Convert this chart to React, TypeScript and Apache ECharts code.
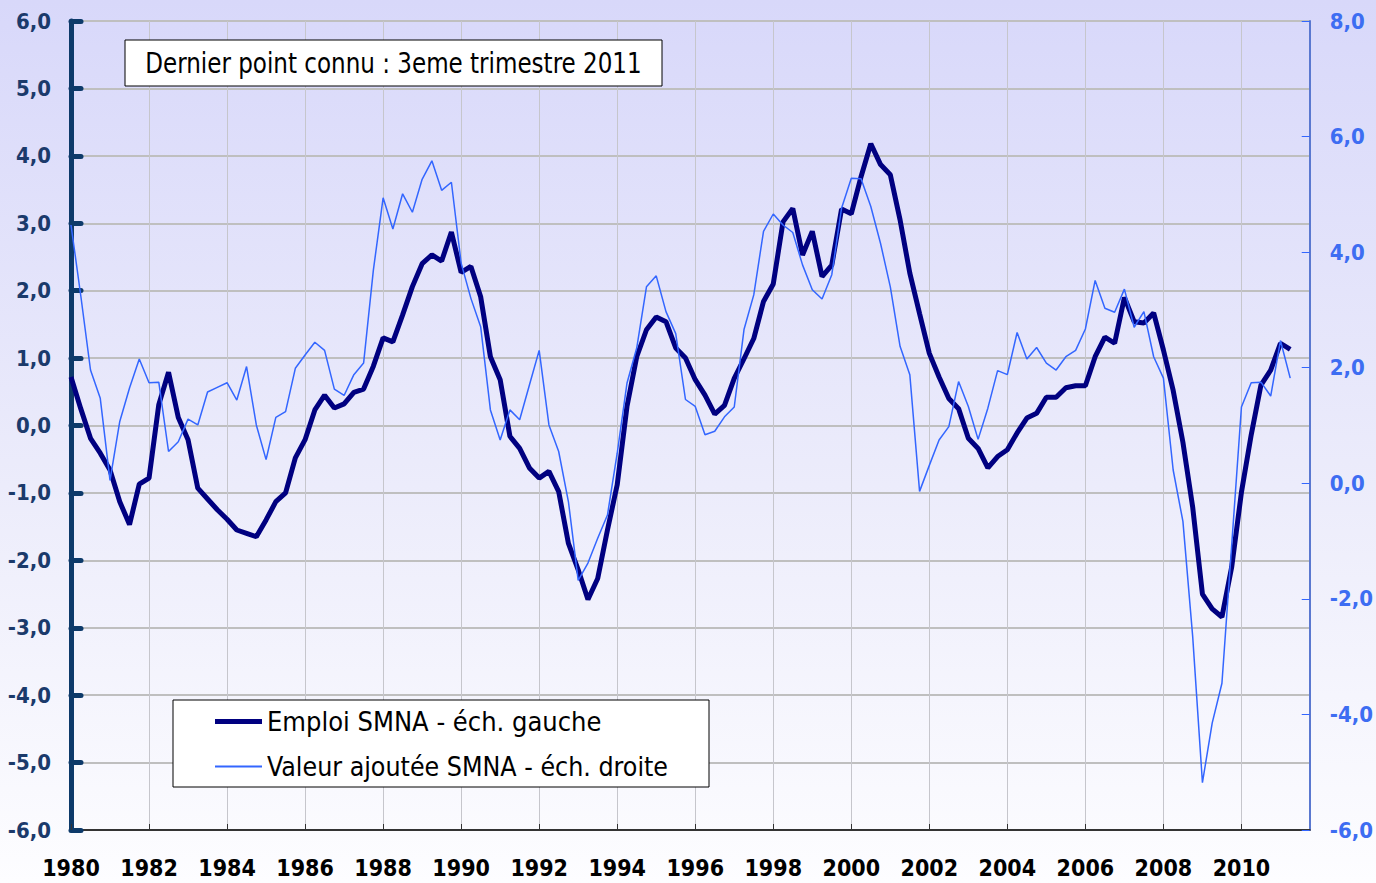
import React, { useEffect, useRef } from 'react';
import * as echarts from 'echarts';

// Quarterly data, first point 1980 Q1
const startYear = 1980;
const quarterStep = 0.25;

// Emploi SMNA, glissement annuel (%), échelle gauche
const emploi = [
  0.72, 0.25, -0.19, -0.41, -0.66, -1.13, -1.47, -0.87, -0.78, 0.31,
  0.79, 0.12, -0.21, -0.93, -1.09, -1.25, -1.39, -1.55, -1.60, -1.65,
  -1.40, -1.13, -1.00, -0.48, -0.21, 0.23, 0.45, 0.26, 0.32, 0.49,
  0.54, 0.88, 1.30, 1.24, 1.64, 2.06, 2.40, 2.53, 2.44, 2.87,
  2.27, 2.36, 1.91, 1.02, 0.68, -0.16, -0.34, -0.63, -0.78, -0.68,
  -0.98, -1.75, -2.14, -2.58, -2.27, -1.55, -0.88, 0.28, 1.02, 1.42,
  1.61, 1.54, 1.15, 1.00, 0.68, 0.45, 0.17, 0.30, 0.70, 0.99,
  1.29, 1.84, 2.10, 3.02, 3.22, 2.53, 2.88, 2.21, 2.38, 3.21,
  3.14, 3.69, 4.18, 3.87, 3.72, 3.05, 2.26, 1.66, 1.07, 0.72,
  0.40, 0.25, -0.19, -0.34, -0.63, -0.46, -0.36, -0.11, 0.11, 0.18,
  0.42, 0.42, 0.56, 0.59, 0.59, 1.02, 1.31, 1.22, 1.90, 1.54,
  1.52, 1.67, 1.12, 0.52, -0.25, -1.21, -2.50, -2.72, -2.84, -2.10,
  -0.99, -0.14, 0.60, 0.82, 1.22, 1.13,
];

// Valeur ajoutée SMNA, glissement annuel (%), échelle droite
const valeurAjoutee = [
  4.47, 3.25, 1.96, 1.47, 0.05, 1.07, 1.65, 2.15, 1.74, 1.75,
  0.55, 0.72, 1.11, 1.01, 1.58, 1.66, 1.74, 1.44, 2.02, 1.01,
  0.41, 1.14, 1.24, 1.99, 2.22, 2.44, 2.30, 1.63, 1.52, 1.88,
  2.08, 3.69, 4.94, 4.40, 5.01, 4.69, 5.26, 5.58, 5.07, 5.21,
  3.81, 3.20, 2.71, 1.27, 0.75, 1.27, 1.10, 1.70, 2.30, 1.01,
  0.55, -0.32, -1.68, -1.38, -0.95, -0.55, 0.52, 1.73, 2.34, 3.40,
  3.59, 2.97, 2.59, 1.45, 1.33, 0.84, 0.90, 1.15, 1.32, 2.66,
  3.26, 4.36, 4.66, 4.47, 4.34, 3.78, 3.35, 3.19, 3.61, 4.76,
  5.28, 5.27, 4.79, 4.15, 3.40, 2.37, 1.88, -0.14, 0.31, 0.75,
  0.98, 1.76, 1.33, 0.76, 1.30, 1.95, 1.88, 2.61, 2.15, 2.35,
  2.08, 1.96, 2.19, 2.30, 2.67, 3.51, 3.03, 2.96, 3.36, 2.70,
  2.97, 2.19, 1.82, 0.23, -0.66, -2.65, -5.18, -4.15, -3.46, -1.07,
  1.32, 1.74, 1.75, 1.51, 2.47, 1.82,
];

const seriesNames = ['Emploi SMNA - éch. gauche', 'Valeur ajoutée SMNA - éch. droite'];
const noteText = 'Dernier point connu : 3eme trimestre 2011';

const xMin = 1980;
const xMax = 2011.75;
const xInterval = 2;
const leftMin = -6;
const leftMax = 6;
const leftInterval = 1;
const rightMin = -6;
const rightMax = 8;
const rightInterval = 2;

const FONT = "'Liberation Sans Narrow', 'Arial Narrow', 'DejaVu Sans Condensed', 'Liberation Sans', sans-serif";

const toPairs = (arr: number[]) => arr.map((v, i) => [startYear + i * quarterStep, v]);
const fmt = (v: number) => v.toFixed(1).replace('.', ',');

export default function App() {
  const ref = useRef<HTMLDivElement>(null);
  useEffect(() => {
    if (!ref.current) return;
    const chart = echarts.init(ref.current, null, { renderer: 'svg' });
    const option: any = {
      animation: false,
      backgroundColor: new echarts.graphic.LinearGradient(0, 0, 0, 1, [
        { offset: 0, color: '#d8d8fa' },
        { offset: 0.55, color: '#ececfb' },
        { offset: 1, color: '#fdfdff' },
      ]),
      grid: { left: 71, right: 66, top: 21, bottom: 53, containLabel: false },
      xAxis: {
        type: 'value',
        min: xMin,
        max: xMax,
        interval: xInterval,
        axisLine: { show: true, onZero: false, lineStyle: { color: '#333', width: 2 } },
        axisTick: { show: true, inside: true, length: 6, lineStyle: { color: '#333', width: 1 } },
        axisLabel: {
          showMaxLabel: false,
          formatter: (v: number) => (Math.abs(v % 2) < 1e-6 ? String(v) : ''),
          color: '#000',
          fontSize: 23,
          fontWeight: 'bold',
          fontFamily: FONT,
          margin: 26,
        },
        splitLine: { show: true, lineStyle: { color: '#c6c6cc', width: 1 } },
      },
      yAxis: [
        {
          type: 'value',
          min: leftMin,
          max: leftMax,
          interval: leftInterval,
          position: 'left',
          axisLine: { show: true, onZero: false, lineStyle: { color: '#0d3a6a', width: 5 } },
          axisTick: { show: true, inside: true, length: 10, lineStyle: { color: '#0d3a6a', width: 5, cap: 'round' } },
          axisLabel: { formatter: fmt, color: '#1b3a6b', fontSize: 22, fontWeight: 'bold', fontFamily: FONT, margin: 20 },
          splitLine: { show: true, lineStyle: { color: '#bfbfbf', width: 2 } },
        },
        {
          type: 'value',
          min: rightMin,
          max: rightMax,
          interval: rightInterval,
          position: 'right',
          axisLine: { show: true, onZero: false, lineStyle: { color: '#5a78d0', width: 2 } },
          axisTick: { show: true, inside: true, length: 8, lineStyle: { color: '#3366ff', width: 1 } },
          axisLabel: { formatter: fmt, color: '#3d6df2', fontSize: 22, fontWeight: 'bold', fontFamily: FONT, margin: 20 },
          splitLine: { show: false },
        },
      ],
      legend: [
        {
          data: [seriesNames[0]],
          left: 215,
          top: 708,
          padding: 0,
          icon: 'rect',
          itemWidth: 47,
          itemHeight: 5,
          selectedMode: false,
          z: 20,
          textStyle: { fontSize: 27, fontFamily: FONT, color: '#000' },
        },
        {
          data: [seriesNames[1]],
          left: 215,
          top: 753,
          padding: 0,
          icon: 'rect',
          itemWidth: 47,
          itemHeight: 2,
          selectedMode: false,
          z: 20,
          textStyle: { fontSize: 26.5, fontFamily: FONT, color: '#000' },
        },
      ],
      graphic: [
        {
          type: 'rect',
          z: 10,
          shape: { x: 125, y: 40, width: 537, height: 46 },
          style: { fill: '#fff', stroke: '#000', lineWidth: 1 },
        },
        {
          type: 'text',
          z: 11,
          x: 393.5,
          y: 63,
          scaleX: 0.915,
          style: {
            text: noteText,
            fill: '#000',
            fontSize: 28,
            fontFamily: FONT,
            align: 'center',
            verticalAlign: 'middle',
            textAlign: 'center',
            textVerticalAlign: 'middle',
          },
        },
        {
          type: 'rect',
          z: 10,
          shape: { x: 173, y: 700, width: 536, height: 87 },
          style: { fill: '#fff', stroke: '#000', lineWidth: 1 },
        },
      ],
      series: [
        {
          name: seriesNames[0],
          type: 'line',
          yAxisIndex: 0,
          data: toPairs(emploi),
          showSymbol: false,
          symbol: 'none',
          lineStyle: { color: '#000080', width: 5 },
          itemStyle: { color: '#000080' },
          z: 3,
        },
        {
          name: seriesNames[1],
          type: 'line',
          yAxisIndex: 1,
          data: toPairs(valeurAjoutee),
          showSymbol: false,
          symbol: 'none',
          lineStyle: { color: '#3366ff', width: 1.5 },
          itemStyle: { color: '#3366ff' },
          z: 4,
        },
      ],
    };
    chart.setOption(option);
    return () => chart.dispose();
  }, []);
  return <div ref={ref} style={{ position: 'fixed', left: 0, top: 0, width: 1376, height: 883 }} />;
}
